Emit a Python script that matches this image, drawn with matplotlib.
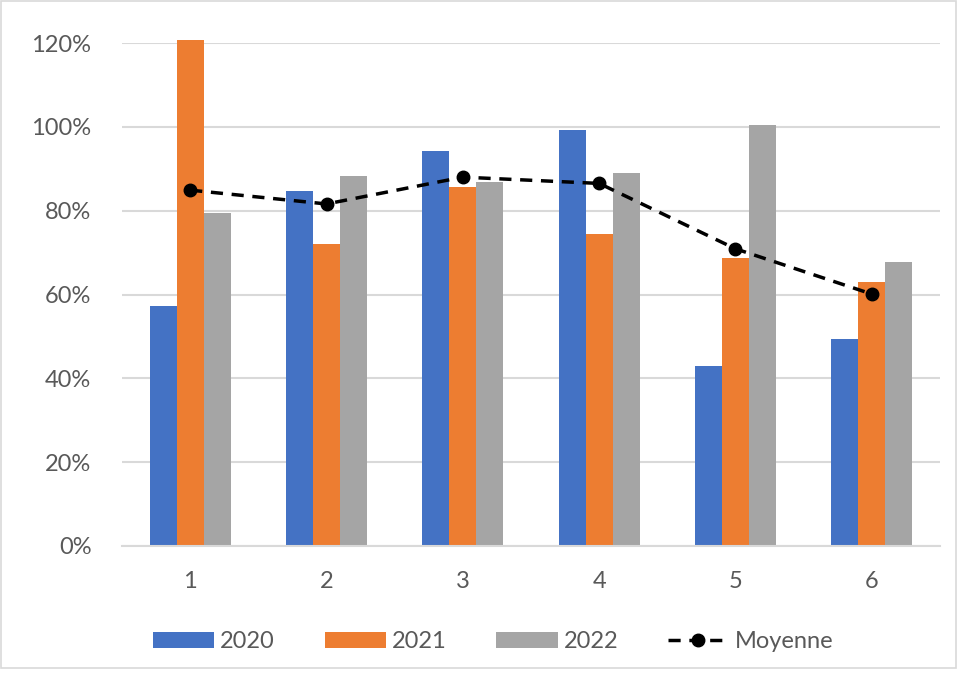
import numpy as np
import matplotlib
matplotlib.use('Agg')
import matplotlib.pyplot as plt
from matplotlib.patches import Rectangle
from matplotlib.ticker import FuncFormatter

plt.rcParams['font.family'] = ['Lato', 'DejaVu Sans']

groups = [1, 2, 3, 4, 5, 6]
v2020 = [57.3, 84.7, 94.2, 99.2, 43.0, 49.3]
v2021 = [120.6, 72.0, 85.6, 74.4, 68.8, 63.1]
v2022 = [79.4, 88.3, 86.8, 88.9, 100.4, 67.8]
moyenne = [84.9, 81.6, 88.0, 86.5, 70.9, 60.1]

blue = '#4472c4'
orange = '#ed7d31'
gray = '#a5a5a5'
textc = '#595959'

fig = plt.figure(figsize=(9.59, 6.76), dpi=100)
ax = fig.add_axes([122 / 959, 1 - 546 / 676, 818 / 959, 503 / 676])

x = np.array(groups)
w = 0.198
b1 = ax.bar(x - w, v2020, w, color=blue, label='2020', zorder=2, clip_on=False)
b2 = ax.bar(x, v2021, w, color=orange, label='2021', zorder=2, clip_on=False)
b3 = ax.bar(x + w, v2022, w, color=gray, label='2022', zorder=2, clip_on=False)
ln, = ax.plot(x, moyenne, color='black', linestyle=(0, (3.5, 2.5)), linewidth=2.5,
              marker='o', markersize=9, label='Moyenne', zorder=3)

ax.set_xlim(0.5, 6.5)
ax.set_ylim(0, 120)
ax.set_yticks(range(0, 121, 20))
ax.yaxis.set_major_formatter(FuncFormatter(lambda v, p: '%d%%' % v))
ax.set_xticks(x)
ax.grid(axis='y', color='#d9d9d9', linewidth=1.5, zorder=0)
for s in ['top', 'right', 'left']:
    ax.spines[s].set_visible(False)
ax.spines['bottom'].set_color('#d9d9d9')
ax.spines['bottom'].set_linewidth(1.5)
ax.tick_params(axis='both', length=0, labelsize=17, labelcolor=textc)
ax.tick_params(axis='y', pad=22)
ax.tick_params(axis='x', pad=18)

leg = ax.legend([b1, b2, b3, ln], ['2020', '2021', '2022', 'Moyenne'],
                loc='center', bbox_to_anchor=(0.454, -0.19), ncol=4, frameon=False,
                fontsize=17, handlelength=2.6, handleheight=0.7, columnspacing=2.1,
                handletextpad=0.25)
for t in leg.get_texts():
    t.set_color(textc)

fig.patches.append(Rectangle((0.001, 1 - 668 / 676), 955 / 959, 667 / 676,
                             transform=fig.transFigure, fill=False,
                             edgecolor='#d9d9d9', linewidth=1.2))

fig.savefig('out.png', dpi=100)
